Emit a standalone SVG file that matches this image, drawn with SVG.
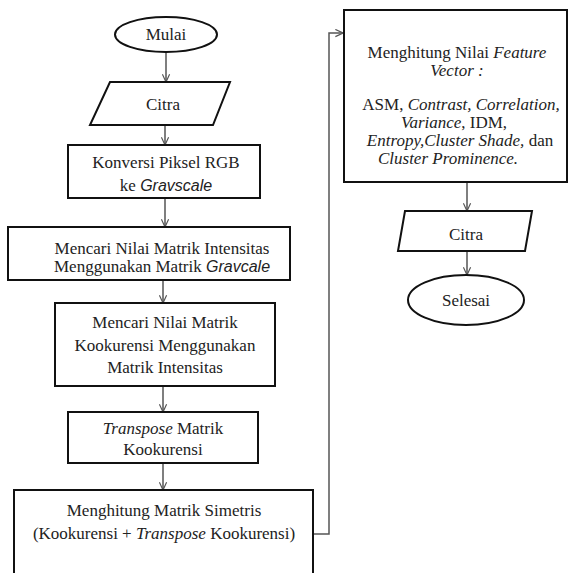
<svg xmlns="http://www.w3.org/2000/svg" width="569" height="573" viewBox="0 0 569 573">
  <style>
    .shape { fill: #ffffff; stroke: #111111; stroke-width: 2; }
    .txt { font-family: "Liberation Serif", "Times New Roman", serif; font-size: 17px; fill: #222222; text-anchor: middle; }
    .it { font-style: italic; }
    .sans { font-family: "Liberation Sans", Arial, sans-serif; font-size: 16px; }
    .link { fill: none; stroke: #555555; stroke-width: 1.5; }
  </style>
  <defs>
    <marker id="arrow" viewBox="0 0 10 10" refX="9.5" refY="5" markerWidth="9" markerHeight="9" markerUnits="userSpaceOnUse" orient="auto">
      <path d="M1,1 L9.5,5 L1,9" fill="none" stroke="#555555" stroke-width="1.3"/>
    </marker>
  </defs>
  <rect width="569" height="573" fill="#ffffff"/>

  <!-- connectors -->
  <g id="connectors">
    <line class="link" x1="166" y1="52" x2="166" y2="82" marker-end="url(#arrow)"/>
    <line class="link" x1="165" y1="125" x2="165" y2="145" marker-end="url(#arrow)"/>
    <line class="link" x1="165" y1="198" x2="165" y2="227" marker-end="url(#arrow)"/>
    <line class="link" x1="163" y1="280" x2="163" y2="303" marker-end="url(#arrow)"/>
    <line class="link" x1="163" y1="386" x2="163" y2="412" marker-end="url(#arrow)"/>
    <line class="link" x1="163" y1="463" x2="163" y2="490" marker-end="url(#arrow)"/>
    <path class="link" d="M313,534 H329 V33 H343" marker-end="url(#arrow)"/>
    <line class="link" x1="467" y1="182" x2="467" y2="211" marker-end="url(#arrow)"/>
    <line class="link" x1="467" y1="251" x2="467" y2="275" marker-end="url(#arrow)"/>
  </g>

  <g id="start">
    <ellipse class="shape" cx="166" cy="34.5" rx="51" ry="17.5"/>
    <text class="txt" x="166" y="40">Mulai</text>
  </g>

  <g id="input-citra">
    <polygon class="shape" points="110,82 230,82 213,125 90,125"/>
    <text class="txt" x="163" y="110">Citra</text>
  </g>

  <g id="konversi">
    <rect class="shape" x="68" y="145" width="192" height="53"/>
    <text class="txt" x="166" y="168">Konversi Piksel RGB</text>
    <text class="txt" x="166" y="191">ke <tspan class="it sans">Gravscale</tspan></text>
  </g>

  <g id="intensitas">
    <rect class="shape" x="8" y="227" width="282" height="53"/>
    <text class="txt" x="162" y="254">Mencari Nilai Matrik Intensitas</text>
    <text class="txt" x="162" y="272">Menggunakan Matrik <tspan class="it sans">Gravcale</tspan></text>
  </g>

  <g id="kookurensi">
    <rect class="shape" x="55" y="303" width="220" height="83"/>
    <text class="txt" x="165" y="328">Mencari Nilai Matrik</text>
    <text class="txt" x="165" y="351">Kookurensi Menggunakan</text>
    <text class="txt" x="165" y="373">Matrik Intensitas</text>
  </g>

  <g id="transpose">
    <rect class="shape" x="68" y="412" width="190" height="51"/>
    <text class="txt" x="163" y="434"><tspan class="it">Transpose</tspan> Matrik</text>
    <text class="txt" x="163" y="455">Kookurensi</text>
  </g>

  <g id="simetris">
    <rect class="shape" x="14" y="490" width="299" height="95"/>
    <text class="txt" x="164" y="516">Menghitung Matrik Simetris</text>
    <text class="txt" x="164" y="539">(Kookurensi + <tspan class="it">Transpose</tspan> Kookurensi)</text>
  </g>

  <g id="feature-vector">
    <rect class="shape" x="344" y="10" width="223" height="172"/>
    <text class="txt" x="457" y="58">Menghitung Nilai <tspan class="it">Feature</tspan></text>
    <text class="txt it" x="457" y="76">Vector :</text>
    <text class="txt" x="461" y="110">ASM, <tspan class="it">Contrast,</tspan> <tspan class="it">Correlation,</tspan></text>
    <text class="txt" x="454" y="128"><tspan class="it">Variance</tspan>, IDM,</text>
    <text class="txt" x="460" y="146"><tspan class="it">Entropy,Cluster</tspan> <tspan class="it">Shade,</tspan> dan</text>
    <text class="txt it" x="448" y="164">Cluster Prominence.</text>
  </g>

  <g id="output-citra">
    <polygon class="shape" points="405,211 532,211 525,251 398,251"/>
    <text class="txt" x="466" y="240">Citra</text>
  </g>

  <g id="end">
    <ellipse class="shape" cx="466" cy="300" rx="58" ry="25"/>
    <text class="txt" x="466" y="306">Selesai</text>
  </g>
</svg>
